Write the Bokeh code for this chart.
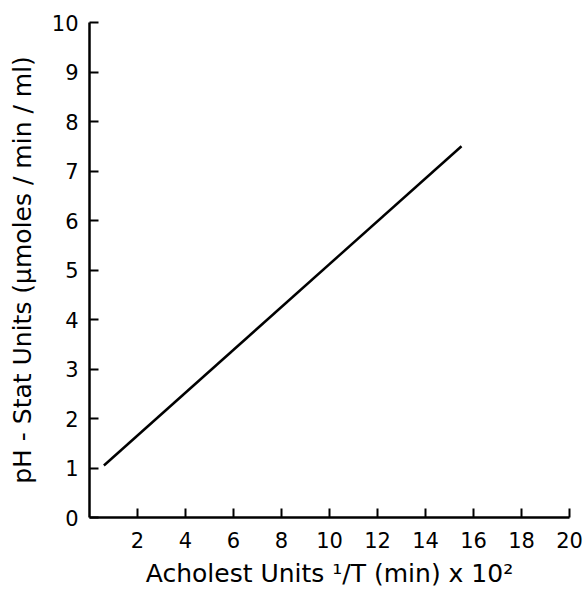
from bokeh.plotting import figure
from bokeh.models import FixedTicker, Range1d, ColumnDataSource
from bokeh.embed import file_html
from bokeh.resources import INLINE

# Data
line_x = [0.6, 15.5]
line_y = [1.05, 7.5]
x_ticks = [2, 4, 6, 8, 10, 12, 14, 16, 18, 20]
y_ticks = [0, 1, 2, 3, 4, 5, 6, 7, 8, 9, 10]
x_label = "Acholest Units \u00b9/T (min) x 10\u00b2"
y_label = "pH - Stat Units (\u03bcmoles / min / ml)"

p = figure(width=586, height=592, output_backend="svg", toolbar_location=None,
           x_range=Range1d(0, 20), y_range=Range1d(0, 10),
           min_border_left=89, min_border_right=17, min_border_top=22, min_border_bottom=75)
p.outline_line_color = None
p.xgrid.visible = False
p.ygrid.visible = False
p.background_fill_color = "white"
p.border_fill_color = "white"

src = ColumnDataSource(dict(x=line_x, y=line_y))
p.line("x", "y", source=src, line_color="black", line_width=2.5)

font = "DejaVu Sans"
for ax in (p.xaxis[0], p.yaxis[0]):
    ax.axis_line_width = 2.5
    ax.axis_line_color = "black"
    ax.major_tick_in = 9
    ax.major_tick_out = 0
    ax.major_tick_line_width = 2
    ax.minor_tick_line_color = None
    ax.major_label_text_font = font
    ax.major_label_text_font_size = "21px"
    ax.major_label_text_color = "black"
    ax.axis_label_text_font = font
    ax.axis_label_text_font_size = "25px"
    ax.axis_label_text_font_style = "normal"
    ax.axis_label_text_color = "black"

p.xaxis.ticker = FixedTicker(ticks=x_ticks)
p.yaxis.ticker = FixedTicker(ticks=y_ticks)
p.xaxis.axis_label = x_label
p.yaxis.axis_label = y_label
p.xaxis.major_label_standoff = 14
p.yaxis.major_label_standoff = 11
p.xaxis.axis_label_standoff = 8
p.yaxis.axis_label_standoff = 12

open("out.html", "w").write(file_html(p, INLINE))
